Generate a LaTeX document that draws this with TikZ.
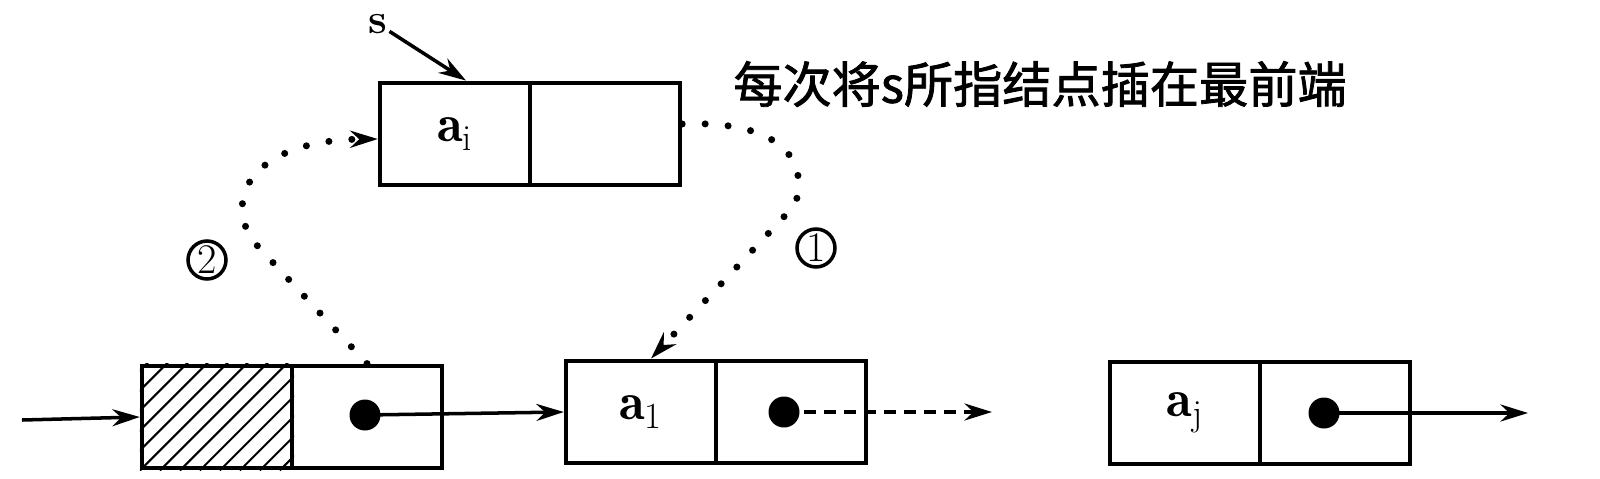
\documentclass[tikz,border=0pt]{standalone}
\usepackage{fontspec}
\newfontfamily\cjk{Noto Sans CJK SC}[FakeBold=1.6]
\usepackage{tikz}
\usetikzlibrary{arrows.meta}

\tikzset{
  cell/.style={draw, line width=2.5pt, minimum width=3cm, minimum height=2.05cm, inner sep=0pt, font=\fontsize{30}{32}\selectfont},
  ptrdot/.style={circle, fill, inner sep=0pt, minimum size=0.62cm},
  link/.style={-{Stealth[length=0.55cm,width=0.34cm]}, line width=2pt},
  dotlink/.style={link, line width=4pt, line cap=round, dash pattern=on 0pt off 0.46cm},
  tag/.style={circle, draw, line width=2pt, minimum size=0.76cm, inner sep=0pt, font=\fontsize{24}{26}\selectfont}
}

\begin{document}
\begin{tikzpicture}[x=0.02cm, y=-0.02cm]
  \useasboundingbox (0,0) rectangle (1600,478);

  % Define nodes
  \node[cell] (ai) at (455,134) {$\mathbf{a}_\mathrm{i}$};
  \node[cell] (aip) at (605,134) {};
  \node[cell] (hd) at (217,417) {};
  \node[cell] (hdp) at (367,417) {};
  \node[cell] (aone) at (641,412) {$\mathbf{a}_\mathrm{1}$};
  \node[cell] (aonep) at (791,412) {};
  \node[cell] (aj) at (1185,413) {$\mathbf{a}_\mathrm{j}$};
  \node[cell] (ajp) at (1335,413) {};
  \node[ptrdot] (hdd) at (365,415) {};
  \node[ptrdot] (aoned) at (784,412) {};
  \node[ptrdot] (ajd) at (1324,413) {};
  \node[font=\fontsize{24}{26}\selectfont\bfseries, inner sep=1pt] (s) at (378,24) {s};
  \node[font=\cjk\fontsize{28}{30}\selectfont] (note) at (1040,84) {每次将s所指结点插在最前端};
  \node[tag] (one) at (816,248) {1};
  \node[tag] (two) at (207,260) {2};
  \coordinate (in) at (22,420);
  \coordinate (more) at (992,412);
  \coordinate (tail) at (1528,413);

  % Hatched head cell
  \begin{scope}
    \clip (hd.south west) rectangle (hd.north east);
    \foreach \k in {-6,...,8}
      \draw[line width=1.2pt] ([xshift={\k*0.4cm}]hd.south west) -- ++(130,-130);
  \end{scope}

  % Define edges
  \draw[link] (s) -- ([xshift=0.22cm]ai.north);
  \draw[link] (in) -- (hd.west);
  \draw[link] (hdd.center) -- (aone.west);
  \draw[link, dash pattern=on 0.24cm off 0.16cm] (aoned.center) -- (more);
  \draw[link] (ajd.center) -- (tail);

  % Define edges with dotted lines
  \draw[dotlink] ([yshift=0.2cm]aip.east) .. controls (780,120) and (810,160) .. (795,205) -- ([xshift=0.2cm]aone.north);
  \draw[dotlink] (hdp.north) -- (252,240) .. controls (222,190) and (262,140) .. ([yshift=-0.1cm]ai.west);
\end{tikzpicture}
\end{document}
